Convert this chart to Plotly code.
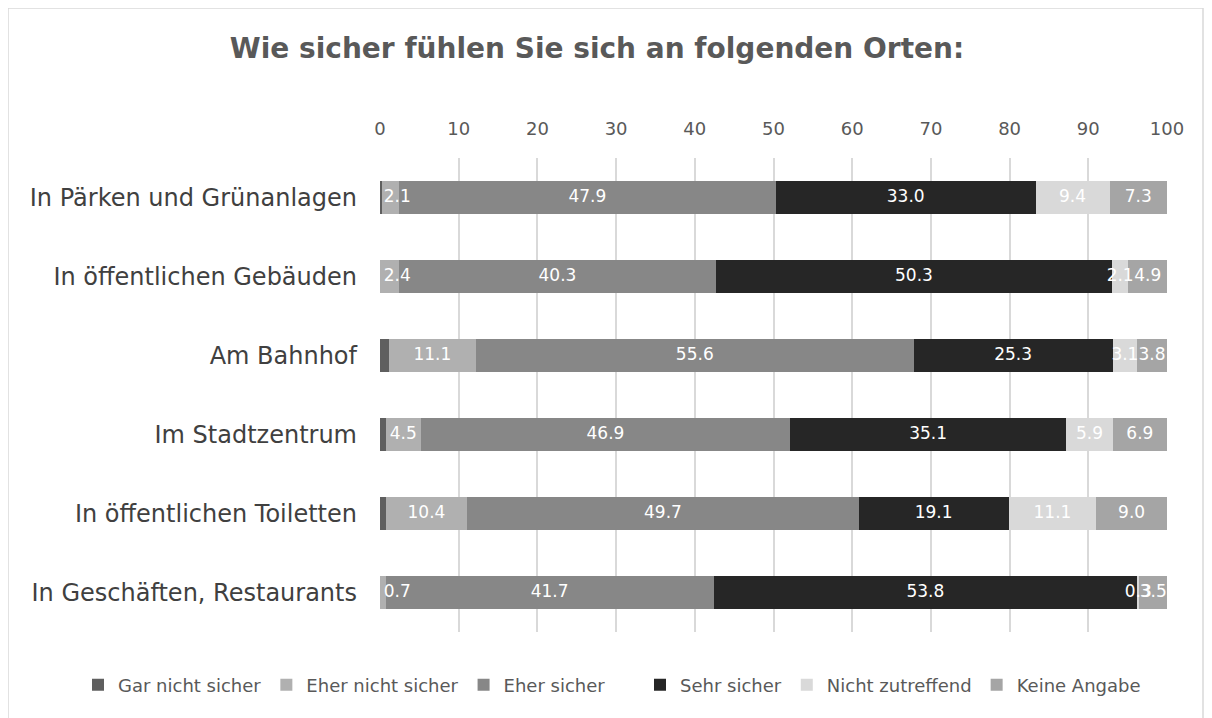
import numpy as np
import plotly.graph_objects as go

# categories listed top to bottom
orte = ['In Pärken und Grünanlagen', 'In öffentlichen Gebäuden', 'Am Bahnhof',
        'Im Stadtzentrum', 'In öffentlichen Toiletten', 'In Geschäften, Restaurants']

gar_nicht_sicher = [0.3, 0.0, 1.1, 0.7, 0.7, 0.0]
eher_nicht_sicher = [2.1, 2.4, 11.1, 4.5, 10.4, 0.7]
eher_sicher = [47.9, 40.3, 55.6, 46.9, 49.7, 41.7]
sehr_sicher = [33.0, 50.3, 25.3, 35.1, 19.1, 53.8]
nicht_zutreffend = [9.4, 2.1, 3.1, 5.9, 11.1, 0.3]
keine_angabe = [7.3, 4.9, 3.8, 6.9, 9.0, 3.5]

# name, values, colour, show data label, which legend box
serien = [
    ('Gar nicht sicher', gar_nicht_sicher, '#5f5f5f', False, 'legend'),
    ('Eher nicht sicher', eher_nicht_sicher, '#b0b0b0', True, 'legend'),
    ('Eher sicher', eher_sicher, '#878787', True, 'legend'),
    ('Sehr sicher', sehr_sicher, '#262626', True, 'legend2'),
    ('Nicht zutreffend', nicht_zutreffend, '#d9d9d9', True, 'legend2'),
    ('Keine Angabe', keine_angabe, '#a5a5a5', True, 'legend2'),
]

fig = go.Figure()
for name, vals, col, _, leg in serien:
    fig.add_trace(go.Bar(
        name=name, y=orte, x=vals, orientation='h', legend=leg,
        marker=dict(color=col, line=dict(width=0)),
    ))

# data labels, centred on each segment, allowed to spill over like in the original;
# labels that would stick out on the left are pushed inside the plot area
basis = np.zeros(len(orte))
for name, vals, col, show_lbl, _ in serien:
    v = np.array(vals)
    if show_lbl:
        fig.add_trace(go.Scatter(
            x=np.maximum(basis + v / 2, 2.2), y=orte, mode='text',
            text=[f'{x:.1f}' for x in v],
            textfont=dict(color='white', size=17, family='DejaVu Sans'),
            showlegend=False, hoverinfo='skip', cliponaxis=False,
        ))
    basis = basis + v

# the legend is split in two boxes so plotly keeps it on one line
leg_common = dict(orientation='h', xref='container', xanchor='left',
                  yref='container', y=1 - 677 / 710, yanchor='middle',
                  font=dict(size=18, color='#595959'), traceorder='normal')

fig.update_layout(
    barmode='stack', bargap=0.59,
    width=1204, height=710, autosize=False,
    paper_bgcolor='white', plot_bgcolor='white',
    margin=dict(l=372, r=45, t=150, b=86, autoexpand=False),
    font=dict(family='DejaVu Sans', color='#595959'),
    title=dict(text='<b>Wie sicher fühlen Sie sich an folgenden Orten:</b>',
               x=589 / 1204, xanchor='center', y=1 - 40 / 710, yanchor='middle',
               font=dict(family='DejaVu Sans', size=28, color='#595959')),
    legend=dict(x=70 / 1204, **leg_common),
    legend2=dict(x=632 / 1204, **leg_common),
)
fig.update_xaxes(side='top', range=[0, 100], dtick=10, showgrid=True,
                 gridcolor='#d9d9d9', gridwidth=1.5, zeroline=False, automargin=False,
                 tickangle=0, ticklabelstandoff=18,
                 tickfont=dict(size=18, color='#595959'), ticks='', fixedrange=True)
fig.update_yaxes(categoryorder='array', categoryarray=orte[::-1], automargin=False,
                 tickfont=dict(size=24, color='#404040'), ticks='',
                 ticklabelstandoff=22, showline=False)

fig.add_shape(type='rect', xref='paper', yref='paper', x0=-372 / 787, x1=(1195 - 372) / 787,
              y0=-(86 + 20) / 474, y1=1 + 150 / 474, line=dict(color='#d9d9d9', width=1.5))

fig.write_html('out.html')
